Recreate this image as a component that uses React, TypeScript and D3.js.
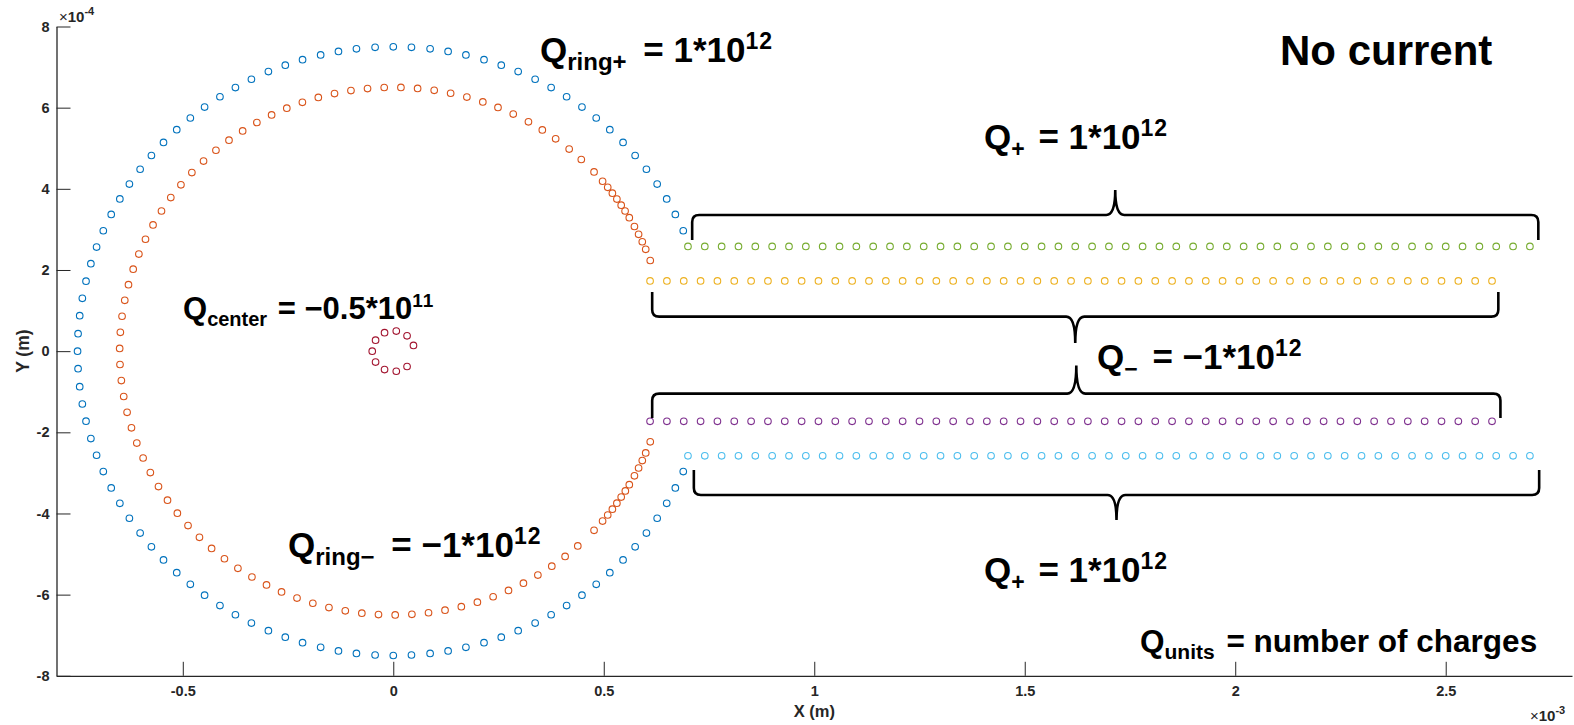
import React, { useEffect, useRef } from "react";
import * as d3 from "d3";

// ring radii (x1e-4 m) and marker angles (degrees)
const ringOuterR = 7.5;
const ringOuterAngles = [
  23.3, 26.7, 30.0, 33.3, 36.7, 40.0, 43.3, 46.7, 50.0, 53.3, 56.7, 60.0, 63.3, 66.7, 70.0, 73.3,
  76.7, 80.0, 83.3, 86.7, 90.0, 93.3, 96.7, 100.0, 103.3, 106.7, 110.0, 113.3, 116.7, 120.0, 123.3,
  126.7, 130.0, 133.3, 136.7, 140.0, 143.3, 146.7, 150.0, 153.3, 156.7, 160.0, 163.3, 166.7, 170.0,
  173.3, 176.7, 180.0, 183.3, 186.7, 190.0, 193.3, 196.7, 200.0, 203.3, 206.7, 210.0, 213.3, 216.7,
  220.0, 223.3, 226.7, 230.0, 233.3, 236.7, 240.0, 243.3, 246.7, 250.0, 253.3, 256.7, 260.0, 263.3,
  266.7, 270.0, 273.3, 276.7, 280.0, 283.3, 286.7, 290.0, 293.3, 296.7, 300.0, 303.3, 306.7, 310.0,
  313.3, 316.7, 320.0, 323.3, 326.7, 330.0, 333.3, 336.7,
];
const ringInnerR = 6.5;
const ringInnerAngles = [
  20.1, 22.7, 24.5, 26.3, 28.2, 30.4, 32.1, 33.6, 35.2, 36.8, 38.4, 40.1, 42.8,
  46.6, 50.0, 53.6, 57.0, 60.4, 64.0, 67.5, 70.9, 74.4, 77.9, 81.4, 84.9, 88.4, 91.9, 95.4, 98.9,
  102.4, 105.9, 109.4, 112.9, 116.4, 119.9, 123.4, 126.9, 130.4, 133.9, 137.4, 140.9, 144.4, 147.9,
  151.4, 154.9, 158.4, 161.9, 165.4, 168.9, 172.4, 175.9, 179.4, 182.9, 186.4, 189.9, 193.4, 196.9,
  200.4, 203.9, 207.4, 210.9, 214.4, 217.9, 221.4, 224.9, 228.4, 231.9, 235.4, 238.9, 242.4, 245.9,
  249.4, 252.9, 256.4, 259.9, 263.4, 266.9, 270.4, 273.9, 277.4, 280.9, 284.4, 287.9, 291.4, 294.9,
  298.4, 301.9, 305.4, 308.9, 312.4,
  317.2, 319.9, 321.6, 323.2, 324.8, 326.4, 328.0, 329.6, 331.8, 333.7, 335.5, 337.3, 339.9,
];
const centerR = 0.5;
const centerAngles = [16.4, 49.1, 81.8, 114.5, 147.3, 180.0, 212.7, 245.5, 278.2, 310.9];

// straight rows: x in 1e-3 m, y in 1e-4 m
const outerRowX = [
  0.70, 0.74, 0.78, 0.82, 0.86, 0.90, 0.94, 0.98, 1.02, 1.06, 1.10, 1.14, 1.18, 1.22, 1.26, 1.30, 1.34,
  1.38, 1.42, 1.46, 1.50, 1.54, 1.58, 1.62, 1.66, 1.70, 1.74, 1.78, 1.82, 1.86, 1.90, 1.94, 1.98, 2.02,
  2.06, 2.10, 2.14, 2.18, 2.22, 2.26, 2.30, 2.34, 2.38, 2.42, 2.46, 2.50, 2.54, 2.58, 2.62, 2.66, 2.70,
];
const innerRowX = [
  0.61, 0.65, 0.69, 0.73, 0.77, 0.81, 0.85, 0.89, 0.93, 0.97, 1.01, 1.05, 1.09, 1.13, 1.17, 1.21, 1.25,
  1.29, 1.33, 1.37, 1.41, 1.45, 1.49, 1.53, 1.57, 1.61, 1.65, 1.69, 1.73, 1.77, 1.81, 1.85, 1.89, 1.93,
  1.97, 2.01, 2.05, 2.09, 2.13, 2.17, 2.21, 2.25, 2.29, 2.33, 2.37, 2.41, 2.45, 2.49, 2.53, 2.57, 2.61,
];
const rowYs = { green: 2.58, yellow: 1.73, purple: -1.73, cyan: -2.58 };

const xTicks = [-0.5, 0, 0.5, 1, 1.5, 2, 2.5];
const yTicks = [-8, -6, -4, -2, 0, 2, 4, 6, 8];

// braces: [x1, x2] in 1e-3 m, arm / bar / tip heights in 1e-4 m
const braces = [
  { x1: 0.71, x2: 2.72, arm: 2.74, bar: 3.355, tip: 3.97 },
  { x1: 0.615, x2: 2.625, arm: 1.46, bar: 0.85, tip: 0.2 },
  { x1: 0.615, x2: 2.63, arm: -1.65, bar: -1.046, tip: -0.354 },
  { x1: 0.714, x2: 2.722, arm: -2.93, bar: -3.545, tip: -4.16 },
];

const labels = [
  { x: 540, y: 62, size: 35, sub: "ring+", subSize: 24, gap: 7, rest: " = 1*10", sup: "12", supSize: 23 },
  { x: 984, y: 149, size: 35, sub: "+", subSize: 23, gap: 4, rest: " = 1*10", sup: "12", supSize: 23 },
  { x: 183, y: 319, size: 31, sub: "center", subSize: 20, gap: 2, rest: " = \u22120.5*10", sup: "11", supSize: 19 },
  { x: 1097, y: 369, size: 35, sub: "\u2212", subSize: 23, gap: 5, rest: " = \u22121*10", sup: "12", supSize: 23 },
  { x: 288, y: 557, size: 35, sub: "ring\u2212", subSize: 24, gap: 7, rest: " = \u22121*10", sup: "12", supSize: 23 },
  { x: 984, y: 582, size: 35, sub: "+", subSize: 23, gap: 4, rest: " = 1*10", sup: "12", supSize: 23 },
];

const FONT = "'Liberation Sans', Arial, Helvetica, sans-serif";
const AX = "#262626";

const App = () => {
  const svgRef = useRef<SVGSVGElement>(null);

  useEffect(() => {
    const svg = d3.select(svgRef.current);
    svg.selectAll("*").remove();

    const x = d3.scaleLinear().domain([-0.8, 2.8]).range([56.5, 1572]);
    const y = d3.scaleLinear().domain([-8, 8]).range([675.8, 26.5]);

    // axes, MATLAB style with ticks pointing inward
    const gx = svg.append("g").attr("transform", `translate(0,${y(-8)})`)
      .call(d3.axisBottom(x).tickValues(xTicks).tickSizeInner(-14).tickSizeOuter(0).tickPadding(10)
        .tickFormat((d) => String(d)));
    const gy = svg.append("g").attr("transform", `translate(${x(-0.8)},0)`)
      .call(d3.axisLeft(y).tickValues(yTicks).tickSizeInner(-14).tickSizeOuter(0).tickPadding(7)
        .tickFormat((d) => String(d)));
    [gx, gy].forEach((g) => {
      g.select(".domain").attr("stroke", AX).attr("stroke-width", 1.3);
      g.selectAll(".tick line").attr("stroke", AX).attr("stroke-width", 1);
      g.selectAll(".tick text").attr("fill", AX).attr("font-family", FONT)
        .attr("font-size", 14.5).attr("font-weight", "bold");
    });

    svg.append("text").attr("x", x(1)).attr("y", 717).attr("text-anchor", "middle")
      .attr("font-family", FONT).attr("font-size", 16.5).attr("font-weight", "bold").attr("fill", AX)
      .text("X (m)");
    svg.append("text").attr("transform", `translate(29,${y(0)}) rotate(-90)`).attr("text-anchor", "middle")
      .attr("font-family", FONT).attr("font-size", 17.5).attr("font-weight", "bold").attr("fill", AX)
      .text("Y (m)");

    const expo = (ex: number, ey: number, p: string) => {
      const t = svg.append("text").attr("x", ex).attr("y", ey).attr("font-family", FONT)
        .attr("font-size", 15).attr("font-weight", "bold").attr("fill", AX);
      t.append("tspan").attr("font-weight", "normal").text("\u00d7");
      t.append("tspan").text("10");
      t.append("tspan").attr("font-size", 11).attr("dy", -7).text(p);
    };
    expo(59, 22, "-4");
    expo(1530, 721, "-3");

    // markers
    const drawRing = (angles: number[], r: number, color: string) => {
      svg.append("g").selectAll("circle").data(angles).enter().append("circle")
        .attr("cx", (a) => x((r * Math.cos((a * Math.PI) / 180)) / 10))
        .attr("cy", (a) => y(r * Math.sin((a * Math.PI) / 180)))
        .attr("r", 3.3).attr("fill", "none").attr("stroke", color).attr("stroke-width", 1.1);
    };
    const drawRow = (xs: number[], yv: number, color: string) => {
      svg.append("g").selectAll("circle").data(xs).enter().append("circle")
        .attr("cx", (d) => x(d)).attr("cy", y(yv))
        .attr("r", 3.3).attr("fill", "none").attr("stroke", color).attr("stroke-width", 1.1);
    };
    drawRing(ringOuterAngles, ringOuterR, "#0072BD");
    drawRing(ringInnerAngles, ringInnerR, "#D95319");
    drawRow(innerRowX, rowYs.yellow, "#EDB120");
    drawRow(innerRowX, rowYs.purple, "#7E2F8E");
    drawRow(outerRowX, rowYs.green, "#77AC30");
    drawRow(outerRowX, rowYs.cyan, "#4DBEEE");
    drawRing(centerAngles, centerR, "#A2142F");

    // curly braces
    braces.forEach((b) => {
      const x1 = x(b.x1), x2 = x(b.x2), xm = (x1 + x2) / 2;
      const ay = y(b.arm), by = y(b.bar), ty = y(b.tip);
      const dir = Math.sign(by - ay);
      const r = 7, c = 9;
      const p = d3.path();
      p.moveTo(x1, ay);
      p.lineTo(x1, by - dir * r);
      p.quadraticCurveTo(x1, by, x1 + r, by);
      p.lineTo(xm - c, by);
      p.quadraticCurveTo(xm, by, xm, ty);
      p.quadraticCurveTo(xm, by, xm + c, by);
      p.lineTo(x2 - r, by);
      p.quadraticCurveTo(x2, by, x2, by - dir * r);
      p.lineTo(x2, ay);
      svg.append("path").attr("d", p.toString()).attr("fill", "none")
        .attr("stroke", "#000").attr("stroke-width", 2.6);
    });

    // charge annotations
    labels.forEach((l) => {
      const k = l.size / 35;
      const t = svg.append("text").attr("x", l.x).attr("y", l.y).attr("font-family", FONT)
        .attr("font-size", l.size).attr("font-weight", "bold").attr("fill", "#000");
      t.append("tspan").text("Q");
      t.append("tspan").attr("font-size", l.subSize).attr("dy", 8 * k).text(l.sub);
      t.append("tspan").attr("dy", -8 * k).attr("dx", l.gap).text(l.rest);
      t.append("tspan").attr("font-size", l.supSize).attr("dy", -13 * k).attr("letter-spacing", 1).text(l.sup);
    });

    svg.append("text").attr("x", 1280).attr("y", 65).attr("font-family", FONT)
      .attr("font-size", 42).attr("font-weight", "bold").attr("fill", "#000").text("No current");

    const u = svg.append("text").attr("x", 1140).attr("y", 652).attr("font-family", FONT)
      .attr("font-size", 31.5).attr("font-weight", "bold").attr("fill", "#000");
    u.append("tspan").text("Q");
    u.append("tspan").attr("font-size", 21).attr("dy", 7).text("units");
    u.append("tspan").attr("dy", -7).attr("dx", 3).text(" = number of charges");
  }, []);

  return (
    <svg ref={svgRef} width={1574} height={725}
      style={{ position: "absolute", left: 0, top: 0, background: "#fff" }} />
  );
};

export default App;
